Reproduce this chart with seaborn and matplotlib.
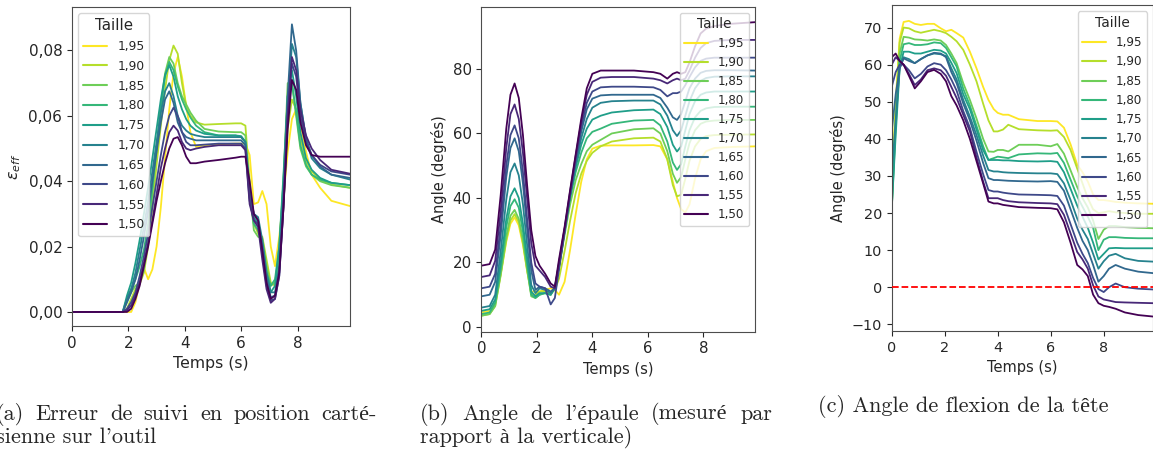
import numpy as np
import pandas as pd
import matplotlib
matplotlib.use("Agg")
import matplotlib.pyplot as plt
from matplotlib.ticker import FuncFormatter, MultipleLocator
import seaborn as sns

# ---------------- data ----------------
tailles = ["1,95", "1,90", "1,85", "1,80", "1,75", "1,70", "1,65", "1,60", "1,55", "1,50"]

# (a) tracking error (values in 1e-3)
t_a = [0, 1.8, 1.95, 2.1, 2.25, 2.4, 2.55, 2.7, 2.85, 3.0,
       3.15, 3.3, 3.45, 3.6, 3.75, 3.9, 4.05, 4.2, 4.4, 4.7,
       5.2, 5.8, 6.0, 6.15, 6.3, 6.45, 6.6, 6.75, 6.9, 7.05,
       7.2, 7.35, 7.5, 7.65, 7.8, 7.95, 8.1, 8.3, 8.5, 8.8,
       9.2, 9.86]
err_195 = [0, 0, 0, 0, 3, 9, 13.5, 10, 13, 20,
           32, 47, 62, 73, 78, 72, 63, 55, 50.5, 51,
           51.3, 51.5, 51.5, 51.5, 48, 33, 33.5, 37, 33, 20,
           14, 23, 35, 49, 59, 62, 57.5, 49, 42, 38,
           34, 32.4]
err_190 = [0, 0, 1, 4, 7, 8.5, 12, 20, 32, 45,
           57, 68, 77, 81.5, 79, 70, 63, 60, 58, 57.3,
           57.5, 57.7, 57.7, 57, 40, 27, 24, 23, 16, 9,
           8, 14, 33, 56, 65, 62, 53, 46, 43, 40.5,
           39, 38]
err_185 = [0, 0, 3, 6, 8, 9, 13, 22, 36, 50,
           63, 73, 78, 76, 70, 66, 63.5, 61, 58.5, 56,
           55.2, 55, 55, 54, 38, 25, 23, 22.5, 14, 8,
           9, 18, 40, 70, 70, 60, 50, 44.5, 42, 40,
           38.8, 38]
err_180 = [0, 0, 4, 7, 10, 14, 19, 27, 38, 50,
           62, 72, 76.5, 74, 69, 65, 62, 59.5, 57, 55,
           54, 54, 53.5, 52, 35, 27, 25, 21, 12, 8,
           10, 20, 42, 66, 70, 61, 51, 45, 42, 40.5,
           39.5, 38.8]
err_175 = [0, 0, 5, 9, 15, 22, 30, 38, 47, 56,
           65, 72.5, 75.5, 72, 66, 62, 59, 57, 55.5, 54.5,
           54, 54, 53.8, 52, 36, 29, 27, 20, 11, 6,
           8, 20, 40, 66, 74, 66, 55, 47, 43.5, 41,
           39.5, 38.8]
err_170 = [0, 0, 4, 7, 12, 19, 26, 34, 43, 52,
           61, 67.5, 70, 66, 60, 57, 55.5, 54.5, 54, 53.5,
           53.5, 53.5, 53.5, 52, 37, 30, 29, 22, 12, 6,
           6, 14, 35, 62, 82, 78, 64, 53, 47, 44,
           42, 40.5]
err_165 = [0, 0, 3, 6, 10, 16, 23, 31, 40, 49,
           58, 65, 67.5, 64, 58, 55, 53.5, 53, 52.5, 52.5,
           52.5, 52.5, 52.5, 51, 36, 30, 28, 20, 10, 4.5,
           5, 13, 36, 66, 88, 80, 64, 53, 48, 44.5,
           42, 41]
err_160 = [0, 0, 1, 3, 6, 11, 17, 24, 32, 40,
           48, 55, 60, 62.5, 60, 55, 52, 51, 51, 51.2,
           51.5, 51.5, 51.5, 50, 34, 28, 27, 18, 8, 3.5,
           4, 11, 32, 60, 76, 72, 60, 52, 48, 45,
           43, 42]
err_155 = [0, 0, 0.5, 2, 5, 9, 15, 21, 28, 36,
           44, 50, 55, 57, 55.5, 52, 50, 49.5, 50, 50.5,
           51, 51, 51, 49.5, 33, 28, 26, 16, 7, 2.8,
           4, 11, 32, 60, 78, 74, 62, 54, 50, 46.5,
           43.5, 42.3]
err_150 = [0, 0, 0, 1, 4, 8, 14, 20, 27, 34,
           40, 45.5, 50, 53, 53.5, 51, 47.5, 45.5, 45.5, 46,
           46.5, 47.2, 47.5, 47.5, 40, 30, 28, 19, 9, 4,
           5, 12, 32, 56, 71, 68, 58, 51, 48, 47.5,
           47.5, 47.5]

# (b) shoulder angle (degrees)
t_b = [0, 0.3, 0.5, 0.7, 0.9, 1.05, 1.2, 1.35, 1.5, 1.65,
       1.8, 1.95, 2.1, 2.3, 2.5, 2.65, 2.8, 3.0, 3.2, 3.4,
       3.6, 3.8, 4.0, 4.3, 4.7, 5.5, 6.2, 6.45, 6.7, 6.9,
       7.05, 7.2, 7.35, 7.5, 7.7, 7.9, 8.1, 8.4, 9.0, 9.86]
ep_150 = [19, 19.5, 24, 41, 61.5, 72, 75.5, 71, 59.5, 44,
          30, 22, 19, 16.5, 13.5, 12.5, 21, 31, 42.5, 53.5,
          64.5, 74, 78.5, 79.5, 79.5, 79.5, 79, 78.5, 77, 78.5,
          79, 78.5, 79, 82, 87, 91, 92.5, 93.3, 94, 94.5]
ep_155 = [15.5, 16, 20.5, 36, 55.5, 66, 69, 64.5, 54, 40,
          26, 19, 17.5, 15.5, 12.5, 12, 20, 30.5, 42, 53,
          63.5, 72, 76, 77.3, 77.5, 77.5, 77, 76.5, 75.5, 76.5,
          77, 76.5, 77, 79.5, 83.5, 86.5, 88, 88.7, 89, 89]
ep_160 = [12, 12.5, 16.5, 31.5, 50, 59.5, 62.5, 58.5, 48, 33.5,
          20, 13.5, 12.5, 12, 7, 9, 18, 29.5, 41, 52,
          62, 69.5, 73, 74.3, 74.5, 74.5, 74.3, 73.5, 71.5, 72.5,
          72.5, 73, 75, 77.5, 80.5, 82.5, 83.2, 83.5, 83.5, 83.5]
ep_165 = [9.5, 10, 14, 28.5, 46.5, 55.5, 58.5, 54.5, 44.5, 30.5,
          17.5, 11.5, 12.5, 12, 11, 12, 18.5, 29.5, 41, 51.5,
          60.5, 67.5, 70.8, 71.8, 72, 72, 72, 71, 68, 65,
          64.2, 66, 70, 74, 77, 78.8, 79.4, 79.6, 79.6, 79.5]
ep_170 = [6, 6.5, 10, 23.5, 39.5, 48, 50.7, 47, 38, 25.5,
          13, 10.5, 12, 11.5, 10.5, 12, 19, 30, 41, 50.5,
          58.5, 64.5, 68, 69.5, 70, 70.2, 70.2, 69, 65.5, 61,
          59.2, 61, 65.5, 70, 74, 76.3, 77.2, 77.6, 77.7, 77.7]
ep_175 = [5, 5.5, 8.5, 20, 33.5, 40.5, 43, 40, 32, 21.5,
          11, 9.5, 10.5, 10.5, 10, 12, 19, 30, 40.5, 49.5,
          56.5, 61.5, 64.3, 65.5, 66.5, 67.2, 67.4, 66, 62, 56.5,
          54.4, 56, 61, 66, 70, 72, 72.7, 73, 73, 73]
ep_180 = [4, 4.5, 7.5, 18, 31, 37.5, 39.6, 37, 29.5, 19.5,
          10, 9, 10, 10.5, 10, 12.5, 19.5, 30, 40, 48,
          54, 58.5, 60.5, 61.5, 63, 64, 64.2, 62.5, 57.5, 51,
          48.7, 50.5, 56, 61, 65, 67, 67.8, 68.2, 68.3, 68.3]
ep_185 = [3.5, 4, 6.5, 16.5, 28, 34.5, 36.3, 33.5, 27, 18,
          9.5, 9, 10, 10.5, 10, 12, 18.5, 28.5, 38, 45.5,
          50.5, 54.5, 56.5, 58, 60, 61.3, 61.6, 60, 54.5, 47.5,
          44.7, 46.5, 52, 57, 61, 63, 63.7, 64, 64.2, 64.2]
ep_190 = [3.5, 4, 6.5, 16, 27, 33, 35, 32.5, 26, 17.5,
          10, 10, 11, 11, 10.5, 11.5, 15, 23.5, 33, 41.5,
          47.5, 51.5, 54, 56, 57.5, 58.5, 58.7, 57.5, 52, 44,
          40.5, 41, 46, 51.5, 56, 58.3, 59.2, 59.5, 59.6, 59.7]
ep_195 = [4.5, 5, 7.5, 16.5, 26.5, 32, 34, 31.5, 25.5, 17.5,
          11, 11, 11, 11.5, 12, 11.5, 10, 14, 24, 35,
          45, 52, 55.3, 56.2, 56.3, 56.3, 56.4, 56, 52, 45,
          40, 36.5, 35.5, 38, 46, 52, 54.5, 55.5, 55.8, 56]

# (c) head flexion angle (degrees)
t_c = [0, 0.15, 0.3, 0.45, 0.65, 0.87, 1.1, 1.35, 1.6, 1.85,
       2.05, 2.25, 2.45, 2.7, 2.95, 3.2, 3.45, 3.65, 3.85, 4.0,
       4.2, 4.4, 4.8, 5.5, 6.0, 6.25, 6.5, 6.75, 7.0, 7.2,
       7.4, 7.6, 7.8, 8.0, 8.2, 8.45, 8.8, 9.3, 9.86]
te_195 = [27, 50, 67, 71.5, 71.8, 71, 70.7, 71, 71, 69.8,
          69, 69.4, 68.5, 67.3, 63.5, 59, 54, 50.5, 48, 47,
          46.5, 46.5, 45.3, 44.8, 44.8, 44.7, 43, 38.5, 33, 31,
          28.5, 25, 23.5, 23.5, 23.3, 23, 22.8, 22.6, 22.5]
te_190 = [24, 48, 66, 70, 69.8, 69, 68.6, 69, 69.4, 69,
          68.5, 67.5, 66.3, 64, 60, 55.5, 49.5, 45, 42, 42,
          42.5, 43.8, 42.6, 42.3, 42.2, 42.3, 40.5, 37, 32, 28,
          24, 21, 20, 20.2, 20.5, 20.2, 20, 19.8, 19.8]
te_185 = [21, 45, 63, 67.5, 67.3, 66.8, 66.7, 66.5, 66.8, 66.5,
          65.3, 63, 60.4, 55, 50.5, 45.5, 40, 36.6, 36.5, 37,
          37, 36.6, 38.4, 38.4, 38, 38.6, 36, 31.5, 27, 24,
          21.5, 18, 13, 15.5, 16.5, 16.5, 16.2, 16, 15.9]
te_180 = [21, 43, 61, 65.5, 65.8, 65.3, 65.3, 65.5, 66, 65.8,
          64.5, 62, 59.5, 53.5, 49, 43.5, 38, 34.3, 34.8, 35.2,
          35, 34.8, 35.8, 36.1, 36, 36.2, 33.5, 29, 24.5, 21.7,
          19, 16, 10, 12.8, 13.5, 13.5, 13.3, 13.2, 13.2]
te_175 = [21, 41, 59, 63.5, 63.5, 63, 63, 63.5, 64, 63.8,
          63, 60.5, 57.7, 52, 48, 42.5, 37, 34.3, 34.3, 34.3,
          34.2, 34.2, 34, 33.9, 34, 33.8, 31, 26.5, 22, 19,
          16, 12, 7.5, 9, 10.5, 10.6, 10.5, 10.5, 10.5]
te_170 = [30, 45, 59, 62, 61.5, 60.4, 61.5, 62.5, 63, 62.8,
          62.3, 59, 56, 50.5, 46, 41, 35.5, 31.6, 31.2, 31.2,
          31, 30.9, 30.8, 30.7, 30.7, 30.5, 28, 23.5, 18.5, 15.5,
          13, 9, 5, 7, 8.5, 9, 7.8, 7.1, 6.9]
te_165 = [42, 52, 59, 61.7, 61, 60.4, 61.5, 62.5, 63.2, 63,
          62, 58, 55, 49.5, 45, 39.5, 33.5, 29.4, 28.9, 28.9,
          28.8, 28.7, 28.6, 28.5, 28.6, 28.4, 26, 21, 16, 12.5,
          10, 6, 1.5, 3, 5, 6, 5, 4.2, 3.8]
te_160 = [54, 58, 60, 60, 58.5, 56.3, 57.5, 59.5, 60.4, 60,
          58.5, 56, 53, 47.5, 43, 36.5, 30.5, 26.2, 25.8, 25.8,
          25.5, 25.3, 25, 24.9, 24.8, 24.6, 22, 17, 12, 9,
          6.5, 2.5, -0.5, -1.3, 0, 1, 0, -0.4, -0.6]
te_155 = [60, 62, 61, 60, 57.5, 54.5, 56, 58.5, 59, 58.5,
          57, 54, 51, 46.5, 42, 35, 28.5, 24, 24, 24,
          23.5, 23.2, 22.9, 22.7, 22.6, 22.4, 19.5, 14.5, 9.5, 7.5,
          5, 0.5, -2.5, -3.3, -3.6, -4, -4.1, -4.2, -4.3]
te_150 = [62, 63, 61, 60, 57, 53.6, 55.5, 58, 58.6, 57.5,
          55.5, 51.5, 49, 45, 40, 34, 28, 23.1, 22.6, 22.6,
          22.2, 22, 21.6, 21.4, 21.3, 21, 17.5, 12, 6, 4.8,
          3, -2, -4.3, -5, -5.3, -5.8, -6.8, -7.5, -7.9]

erreur = [err_195, err_190, err_185, err_180, err_175, err_170, err_165, err_160, err_155, err_150]
epaule = [ep_195, ep_190, ep_185, ep_180, ep_175, ep_170, ep_165, ep_160, ep_155, ep_150]
tete = [te_195, te_190, te_185, te_180, te_175, te_170, te_165, te_160, te_155, te_150]

cap_a1 = "(a) Erreur de suivi en position carté-"
cap_a2 = "sienne sur l'outil"
cap_b1 = "(b) Angle de l'épaule (mesuré par"
cap_b2 = "rapport à la verticale)"
cap_c = "(c) Angle de flexion de la tête"


def frame(t, series, scale=1.0):
    rows = []
    for lab, vals in zip(tailles, series):
        assert len(vals) == len(t), (lab, len(vals), len(t))
        for ti, v in zip(t, vals):
            rows.append({"Temps": ti, "val": v * scale, "Taille": lab})
    return pd.DataFrame(rows)


df_a = frame(t_a, erreur, 1e-3)
df_b = frame(t_b, epaule)
df_c = frame(t_c, tete)

# ---------------- style ----------------
sns.set_style("ticks")
plt.rcParams["font.family"] = ["DejaVu Sans"]
plt.rcParams["font.size"] = 10
plt.rcParams["axes.edgecolor"] = "0.3"

cmap = matplotlib.colormaps["viridis"]
palette = [cmap(x) for x in np.linspace(1, 0, 10)]

W, H = 1153, 453
fig = plt.figure(figsize=(W / 100, H / 100), dpi=100)


def box(l, r, t, b):
    return [l / W, 1 - b / H, (r - l) / W, (b - t) / H]


ax_a = fig.add_axes(box(72, 350, 7, 326))
ax_b = fig.add_axes(box(481.3, 755, 6.7, 331.7))
ax_c = fig.add_axes(box(891.7, 1153, 5.3, 331))

sizes = {ax_a: (11, 11.3), ax_b: (10.8, 10.5), ax_c: (10.4, 10.5)}
for ax, df in [(ax_a, df_a), (ax_b, df_b), (ax_c, df_c)]:
    sns.lineplot(data=df, x="Temps", y="val", hue="Taille", hue_order=tailles,
                 palette=palette, estimator=None, sort=True, lw=1.3, ax=ax)
    ax.set_xlim(0, 9.86)
    ax.xaxis.set_major_locator(MultipleLocator(2))
    ax.set_xlabel("Temps (s)", fontsize=sizes[ax][1])
    ax.tick_params(labelsize=sizes[ax][0])

ax_a.set_ylim(-0.0043, 0.0933)
ax_a.yaxis.set_major_locator(MultipleLocator(0.02))
ax_a.yaxis.set_major_formatter(FuncFormatter(lambda v, p: f"{v:.2f}".replace(".", ",")))
ax_a.set_ylabel(r"$\varepsilon_{eff}$", fontsize=11.3)

ax_b.set_ylim(-1.46, 99.3)
ax_b.yaxis.set_major_locator(MultipleLocator(20))
ax_b.set_ylabel("Angle (degrés)", fontsize=10.5)

ax_c.set_ylim(-11.8, 76)
ax_c.yaxis.set_major_locator(MultipleLocator(10))
ax_c.set_ylabel("Angle (degrés)", fontsize=10.5)
ax_c.axhline(0, color="red", ls="--", lw=1.3, zorder=3)

sns.move_legend(ax_a, "upper left", title="Taille", fontsize=8.8, title_fontsize=10.8,
                labelspacing=0.56)
sns.move_legend(ax_b, "upper right", title="Taille", fontsize=8.6, title_fontsize=9.8,
                labelspacing=0.5)
sns.move_legend(ax_c, "upper right", title="Taille", fontsize=8.6, title_fontsize=9.9,
                labelspacing=0.52)
for ax in (ax_a, ax_b, ax_c):
    for line in ax.get_legend().get_lines():
        line.set_linewidth(1.5)

# ---------------- captions ----------------
serif = ["cmr10", "Liberation Serif"]
cap_fs = 16
renderer = fig.canvas.get_renderer()


def justified(line, x0, x1, yc):
    words = line.split(" ")
    texts = [fig.text(0, 1 - yc / H, w, fontsize=cap_fs, family=serif, va="center", ha="left")
             for w in words]
    widths = [t.get_window_extent(renderer).width for t in texts]
    gap = (x1 - x0 - sum(widths)) / (len(words) - 1)
    x = x0
    for t, w in zip(texts, widths):
        t.set_x(x / W)
        x += w + gap


def plain(line, x0, yc):
    fig.text(x0 / W, 1 - yc / H, line, fontsize=cap_fs, family=serif, va="center", ha="left")


justified(cap_a1, -4, 377, 414)
plain(cap_a2, -4, 437)
justified(cap_b1, 420, 772, 414)
plain(cap_b2, 420, 437)
plain(cap_c, 818, 407)

fig.savefig("out.png", dpi=100)
